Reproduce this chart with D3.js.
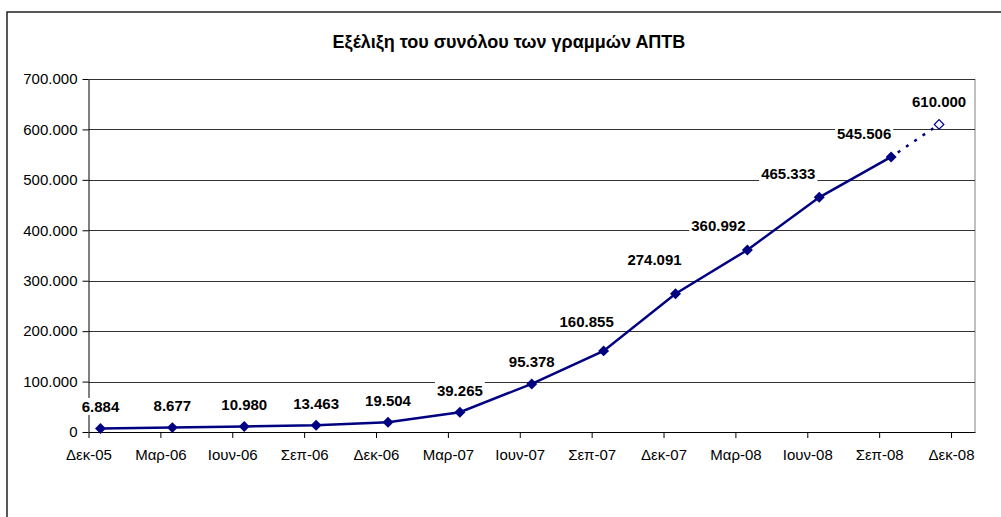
<!DOCTYPE html>
<html>
<head>
<meta charset="utf-8">
<script src="https://cdn.jsdelivr.net/npm/d3@7"></script>
<style>
  body { margin: 0; background: #fff; }
  svg { display: block; font-family: "Liberation Sans", Arial, sans-serif; }
</style>
</head>
<body>
<svg id="chart" width="1001" height="517"></svg>
<script>
// month index 0 = Δεκ-05, one step per month
const monthIdx = [0, 3, 6, 9, 12, 15, 18, 21, 24, 27, 30, 33];
const values = [6884, 8677, 10980, 13463, 19504, 39265, 95378, 160855, 274091, 360992, 465333, 545506];
// forecast point (Νοε-08)
const forecastIdx = 35;
const forecastValue = 610000;

const tickMonths = [0, 3, 6, 9, 12, 15, 18, 21, 24, 27, 30, 33, 36];
const tickLabels = ['Δεκ-05', 'Μαρ-06', 'Ιουν-06', 'Σεπ-06', 'Δεκ-06', 'Μαρ-07', 'Ιουν-07',
  'Σεπ-07', 'Δεκ-07', 'Μαρ-08', 'Ιουν-08', 'Σεπ-08', 'Δεκ-08'];
const yTicks = [0, 100000, 200000, 300000, 400000, 500000, 600000, 700000];

const svg = d3.select('#chart');
const plotL = 88.5, plotR = 975, plotT = 79, plotB = 432;

const x = d3.scaleLinear().domain([0, 37]).range([plotL, plotR]);
const y = d3.scaleLinear().domain([0, 700000]).range([plotB, plotT]);

const fmt = v => v === 0 ? '0' : d3.format(',')(v).replace(/,/g, '.');
const px = i => x(i + 0.5);   // points sit in the middle of their month

// outer frame (cut off at right/bottom like the original)
svg.append('rect')
  .attr('x', 7).attr('y', 12)
  .attr('width', 1010).attr('height', 520)
  .attr('fill', '#fff').attr('stroke', '#222').attr('stroke-width', 1.5);

svg.append('text')
  .attr('x', 509).attr('y', 48)
  .attr('text-anchor', 'middle')
  .style('font-weight', 'bold').style('font-size', '18px')
  .text('Εξέλιξη του συνόλου των γραμμών ΑΠΤΒ');

// plot area right edge
svg.append('line')
  .attr('x1', plotR).attr('x2', plotR).attr('y1', plotT).attr('y2', plotB)
  .attr('stroke', '#808080');

// gridlines
svg.append('g').selectAll('line')
  .data(yTicks.filter(d => d > 0))
  .join('line')
  .attr('x1', plotL).attr('x2', plotR)
  .attr('y1', d => Math.round(y(d)) + 0.5).attr('y2', d => Math.round(y(d)) + 0.5)
  .attr('stroke', '#333');

// y axis
const yAxis = svg.append('g')
  .attr('transform', `translate(${plotL},0)`)
  .call(d3.axisLeft(y).tickValues(yTicks).tickFormat(fmt).tickSize(6).tickSizeOuter(0));
yAxis.selectAll('text').style('font-size', '15px').attr('fill', '#000').attr('x', -11);
yAxis.selectAll('line, path').attr('stroke', '#000');

// x axis
const xAxis = svg.append('g')
  .attr('transform', `translate(0,${plotB})`)
  .call(d3.axisBottom(x).tickValues(tickMonths).tickFormat((d, i) => tickLabels[i]).tickSize(6).tickSizeOuter(0));
xAxis.selectAll('text').style('font-size', '15px').attr('fill', '#000').attr('y', 17);
xAxis.selectAll('line, path').attr('stroke', '#000');

const navy = '#000080';

// actual series
const pts = monthIdx.map((m, i) => ({ m, v: values[i] }));
svg.append('path')
  .datum(pts)
  .attr('fill', 'none').attr('stroke', navy).attr('stroke-width', 2.5)
  .attr('d', d3.line().x(d => px(d.m)).y(d => y(d.v)));

// forecast segment
const last = pts[pts.length - 1];
svg.append('line')
  .attr('x1', px(last.m)).attr('y1', y(last.v))
  .attr('x2', px(forecastIdx)).attr('y2', y(forecastValue))
  .attr('stroke', navy).attr('stroke-width', 2.5)
  .attr('stroke-dasharray', '3,7').attr('stroke-dashoffset', -8);

svg.append('g').selectAll('path')
  .data(pts)
  .join('path')
  .attr('transform', d => `translate(${px(d.m)},${y(d.v)}) rotate(45)`)
  .attr('d', d3.symbol().type(d3.symbolSquare).size(60))
  .attr('fill', navy);

svg.append('path')
  .attr('transform', `translate(${px(forecastIdx)},${y(forecastValue)}) rotate(45)`)
  .attr('d', d3.symbol().type(d3.symbolSquare).size(45))
  .attr('fill', '#fff').attr('stroke', navy).attr('stroke-width', 1.2);

// data labels, some nudged left like in the original
const labelNudge = { 7: [-17, -29], 8: [-21, -34], 9: [-29, -24], 10: [-31, -24], 11: [-27, -23] };
const labels = pts.map((d, i) => ({ m: d.m, v: d.v, n: labelNudge[i] || [0, -22] }));
labels.push({ m: forecastIdx, v: forecastValue, n: [0, -23] });

const lg = svg.append('g').selectAll('g')
  .data(labels)
  .join('g')
  .attr('transform', d => `translate(${px(d.m) + d.n[0]},${y(d.v) + d.n[1]})`);
lg.append('text')
  .attr('text-anchor', 'middle').attr('dy', '0.36em')
  .style('font-weight', 'bold').style('font-size', '15px')
  .text(d => fmt(d.v));
lg.each(function () {
  const b = d3.select(this).select('text').node().getBBox();
  d3.select(this).insert('rect', 'text')
    .attr('x', b.x - 2).attr('y', b.y).attr('width', b.width + 4).attr('height', b.height)
    .attr('fill', '#fff');
});
</script>
</body>
</html>
